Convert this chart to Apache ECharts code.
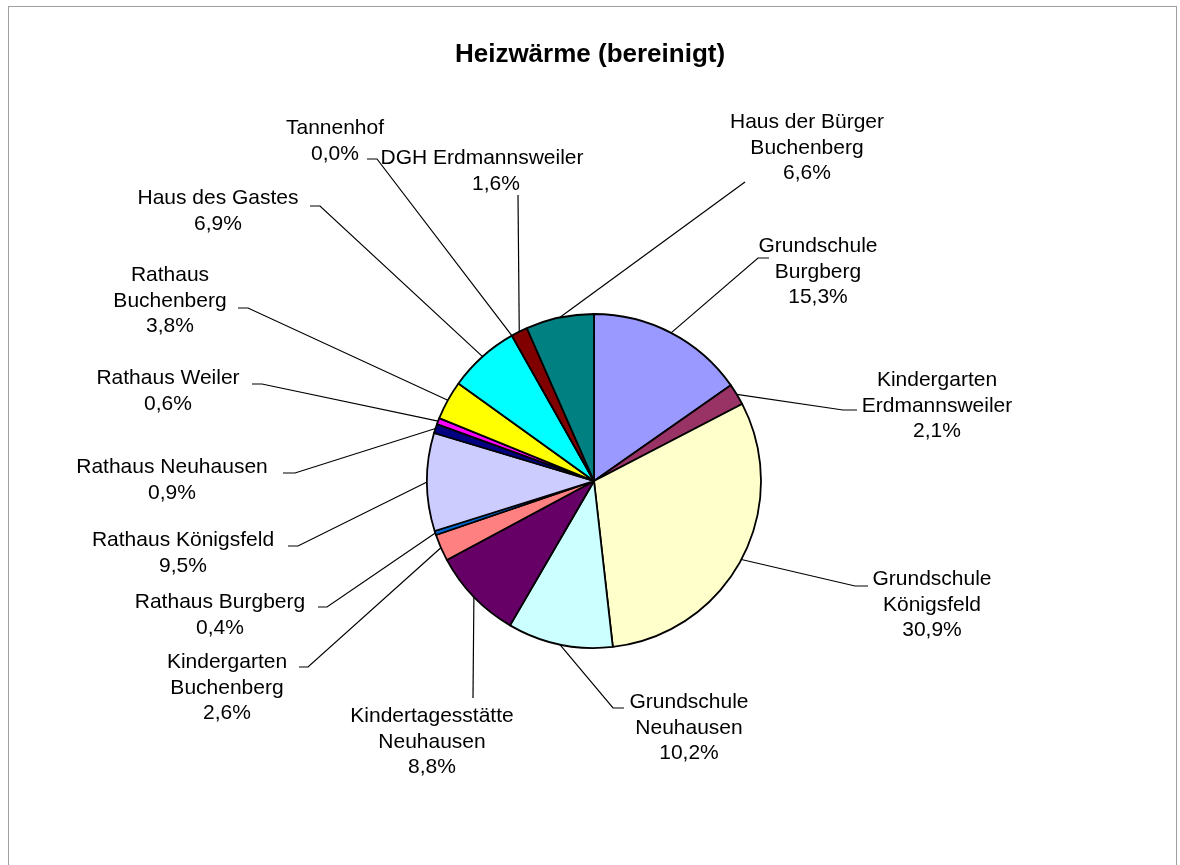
<!DOCTYPE html>
<html>
<head>
<meta charset="utf-8">
<script src="https://cdn.jsdelivr.net/npm/echarts@6/dist/echarts.min.js"></script>
<style>
  html, body { margin: 0; padding: 0; background: #ffffff; }
  #frame { position: absolute; left: 8px; top: 6px; width: 1169px; height: 900px; border: 1px solid #a0a0a0; box-sizing: border-box; }
  #chart { position: absolute; left: 0; top: 0; width: 1180px; height: 865px; }
</style>
</head>
<body>
<div id="frame"></div>
<div id="chart"></div>
<script>
// ---- Data (clockwise from 12 o'clock) ----
var titleText = 'Heizwärme (bereinigt)';
var categories = [
  'Grundschule\nBurgberg',
  'Kindergarten\nErdmannsweiler',
  'Grundschule\nKönigsfeld',
  'Grundschule\nNeuhausen',
  'Kindertagesstätte\nNeuhausen',
  'Kindergarten\nBuchenberg',
  'Rathaus Burgberg',
  'Rathaus Königsfeld',
  'Rathaus Neuhausen',
  'Rathaus Weiler',
  'Rathaus\nBuchenberg',
  'Haus des Gastes',
  'Tannenhof',
  'DGH Erdmannsweiler',
  'Haus der Bürger\nBuchenberg'
];
var shares = [15.3, 2.1, 30.9, 10.2, 8.8, 2.6, 0.4, 9.5, 0.9, 0.6, 3.8, 6.9, 0.0, 1.6, 6.6];
var colors = ['#9999FF', '#993366', '#FFFFCC', '#CCFFFF', '#660066', '#FF8080', '#0066CC',
              '#CCCCFF', '#000080', '#FF00FF', '#FFFF00', '#00FFFF', '#800080', '#800000', '#008080'];

// ---- Layout (label block centre, leader bend, leader end) ----
var labelLayoutSpec = [
  { c: [818, 272], b: [758, 258], e: [769, 258] },
  { c: [937, 406], b: [843, 410], e: [857, 410] },
  { c: [932, 605], b: [855, 586], e: [868, 586] },
  { c: [689, 728], b: [613, 708], e: [624, 708] },
  { c: [432, 742], b: [473, 698], e: [473, 698] },
  { c: [227, 688], b: [308, 667], e: [299, 667] },
  { c: [220, 615], b: [327, 607], e: [318, 607] },
  { c: [183, 553], b: [298, 546], e: [288, 546] },
  { c: [172, 480], b: [295, 473], e: [283, 473] },
  { c: [168, 391], b: [262, 384], e: [252, 384] },
  { c: [170, 301], b: [248, 308], e: [238, 308] },
  { c: [218, 211], b: [320, 206], e: [310, 206] },
  { c: [335, 141], b: [377, 159], e: [367, 159] },
  { c: [482, 171], b: [518, 195], e: [518, 195] },
  { c: [807, 148], b: [745, 182], e: [745, 182] }
];
var pctShift = { 13: 28 };

var FONT = 'Liberation Sans, Arial, sans-serif';
var FS = 21, LH = 25.5;

function fmtPct(v) { return v.toFixed(1).replace('.', ',') + '%'; }

var chart = echarts.init(document.getElementById('chart'), null, { renderer: 'canvas' });

var data = categories.map(function (name, i) {
  var item = { name: name, value: shares[i], itemStyle: { color: colors[i] } };
  if (pctShift[i] != null) {
    item.label = {
      formatter: function (p) { return '{n|' + p.name + '}\n{s|' + fmtPct(p.value) + '}'; },
      rich: {
        n: { fontFamily: FONT, fontSize: FS, lineHeight: LH, color: '#000' },
        s: { fontFamily: FONT, fontSize: FS, lineHeight: LH, color: '#000', padding: [0, 0, 0, pctShift[i]] }
      }
    };
  }
  return item;
});

chart.setOption({
  animation: false,
  backgroundColor: 'transparent',
  title: {
    text: titleText,
    left: 'center',
    top: 37,
    textStyle: { fontFamily: FONT, fontSize: 26, fontWeight: 'bold', color: '#000' }
  },
  series: [{
    type: 'pie',
    center: [594, 481],
    radius: 167,
    startAngle: 90,
    clockwise: true,
    avoidLabelOverlap: false,
    data: data,
    itemStyle: { borderColor: '#000', borderWidth: 1.8 },
    label: {
      show: true,
      position: 'outside',
      formatter: function (p) { return p.name + '\n' + fmtPct(p.value); },
      fontFamily: FONT,
      fontSize: FS,
      lineHeight: LH,
      color: '#000',
      align: 'center'
    },
    labelLine: { show: true, length: 20, length2: 10, smooth: false, lineStyle: { color: '#000', width: 1.2 } },
    labelLayout: function (params) {
      var s = labelLayoutSpec[params.dataIndex];
      var out = { x: s.c[0], y: s.c[1], align: 'center', verticalAlign: 'middle' };
      if (params.labelLinePoints && params.labelLinePoints[0]) {
        var p0 = params.labelLinePoints[0];
        out.labelLinePoints = [[p0[0], p0[1]], s.b.slice(), s.e.slice()];
      }
      return out;
    },
    emphasis: { disabled: true }
  }]
});
</script>
</body>
</html>
